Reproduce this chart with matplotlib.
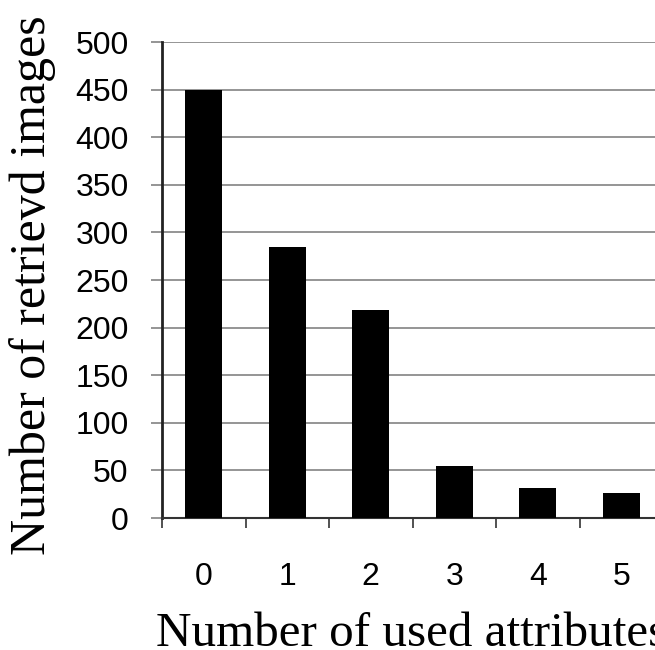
import matplotlib
matplotlib.use('Agg')
import matplotlib.pyplot as plt
from matplotlib.ticker import FixedLocator, MultipleLocator

attributes = ['0', '1', '2', '3', '4', '5']
retrieved = [450, 285, 218, 55, 32, 26]

SANS = 'Liberation Sans'
SERIF = 'Liberation Serif'


def plot_counts(filename):
    fig = plt.figure(figsize=(6.55, 6.5), dpi=100)
    ax = fig.add_axes([162 / 655, 1 - 518 / 650, 493 / 655, 476 / 650])

    pos = list(range(len(attributes)))
    ax.bar(pos, retrieved, width=0.44, color='black', zorder=3)

    ax.set_xlim(-0.5, -0.5 + 493 / 83.5)
    ax.set_ylim(0, 500)
    ax.yaxis.set_major_locator(MultipleLocator(50))
    ax.grid(axis='y', color='#8c8c8c', linewidth=1.3, zorder=0)

    ax.set_xticks(pos)
    ax.set_xticklabels(attributes, fontfamily=SANS, fontsize=23)
    ax.xaxis.set_minor_locator(FixedLocator([p - 0.5 for p in pos]))
    ax.tick_params(axis='x', which='major', length=0, pad=32)
    ax.tick_params(axis='x', which='minor', length=7, width=1.2,
                   color='#333333')
    ax.tick_params(axis='y', length=8, width=1.3, color='#8c8c8c', pad=16,
                   labelsize=23)
    for lbl in ax.get_yticklabels():
        lbl.set_fontfamily(SANS)

    for side in ('top', 'right'):
        ax.spines[side].set_visible(False)
    ax.spines['left'].set_linewidth(2)
    ax.spines['left'].set_color('#222222')
    ax.spines['bottom'].set_linewidth(1.5)
    ax.spines['bottom'].set_color('#333333')

    ax.set_ylabel('Number of retrievd images', fontfamily=SERIF, fontsize=36,
                  va='center', ha='center')
    ax.yaxis.set_label_coords(-0.262, 0.49)
    # the reference crops the end of this label at the right edge
    ax.set_xlabel('Number of used attributes', fontfamily=SERIF, fontsize=35.4,
                  va='baseline', ha='left')
    ax.xaxis.set_label_coords(-0.012, -0.268)

    fig.savefig(filename, dpi=100)


if __name__ == '__main__':
    plot_counts('out.png')
